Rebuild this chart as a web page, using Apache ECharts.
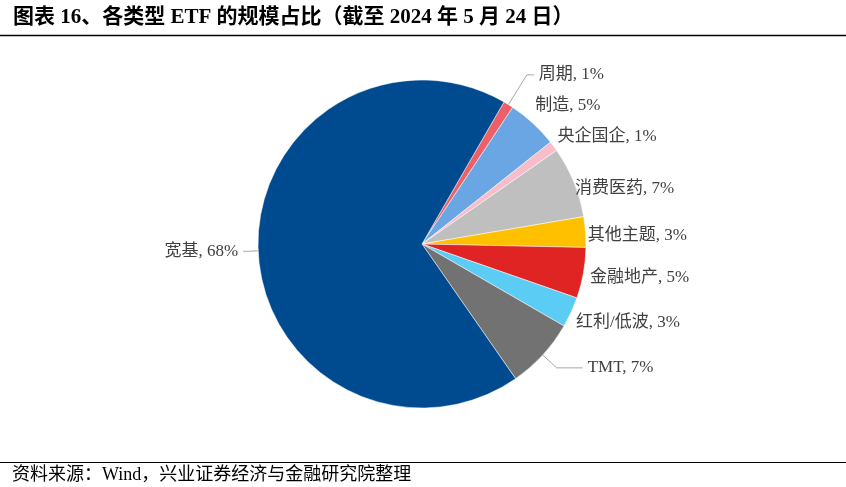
<!DOCTYPE html>
<html>
<head>
<meta charset="utf-8">
<title>各类型 ETF 的规模占比</title>
<script src="https://cdn.jsdelivr.net/npm/echarts@6/dist/echarts.min.js"></script>
<style>
  html, body { margin: 0; padding: 0; background: #fff; }
  #chart { width: 846px; height: 487px; }
</style>
</head>
<body>
<div id="chart"></div>
<script>
// 数据（截至 2024-05-24，单位 %）
var categories = ['周期', '制造', '央企国企', '消费医药', '其他主题', '金融地产', '红利/低波', 'TMT', '宽基'];
var shares = [1, 5, 1, 7, 3, 5, 3, 7, 68];

// 样式
var colors = ['#EF5F67', '#6AA6E4', '#F8BCCB', '#BFBFBF', '#FFC000', '#E02424', '#5BCDF4', '#727272', '#004A90'];
// 标签引导线长度 [length, length2]，以及是否画线
var lineLens = [[35, 7], [24, -19], [16, -14], [-17, 12], [-45, 42], [24, -22], [24, -22], [19, 26], [10, 5]];
var lineShow = [true, false, false, false, false, false, false, true, true];

var FONT = '"Liberation Serif", "Noto Sans CJK SC", serif';

var pieData = categories.map(function (name, i) {
  return {
    name: name,
    value: shares[i],
    itemStyle: { color: colors[i] },
    labelLine: { show: lineShow[i], length: lineLens[i][0], length2: lineLens[i][1] }
  };
});

var chart = echarts.init(document.getElementById('chart'));
chart.setOption({
  backgroundColor: '#fff',
  animation: false,
  title: {
    text: '图表 16、各类型 ETF 的规模占比（截至 2024 年 5 月 24 日）',
    left: 8,
    top: 2,
    textStyle: { fontFamily: FONT, fontSize: 21, fontWeight: 'bold', color: '#000' }
  },
  graphic: [
    { type: 'line', shape: { x1: 0, y1: 35.5, x2: 846, y2: 35.5 }, style: { stroke: '#000', lineWidth: 1.5 } },
    { type: 'line', shape: { x1: 0, y1: 462.5, x2: 846, y2: 462.5 }, style: { stroke: '#000', lineWidth: 1 } },
    {
      type: 'text', left: 12, top: 466,
      style: { text: '资料来源：Wind，兴业证券经济与金融研究院整理', font: '18px ' + FONT, fill: '#000' }
    }
  ],
  series: [{
    type: 'pie',
    center: [422, 244],
    radius: [0, 164],
    startAngle: 60,
    clockwise: true,
    avoidLabelOverlap: false,
    itemStyle: { borderColor: '#fff', borderWidth: 0.5 },
    label: {
      show: true,
      position: 'outside',
      formatter: '{b}, {c}%',
      fontFamily: FONT,
      fontSize: 17,
      color: '#404040'
    },
    labelLine: { lineStyle: { color: '#A6A6A6', width: 1 }, smooth: false },
    data: pieData
  }]
});
</script>
</body>
</html>
